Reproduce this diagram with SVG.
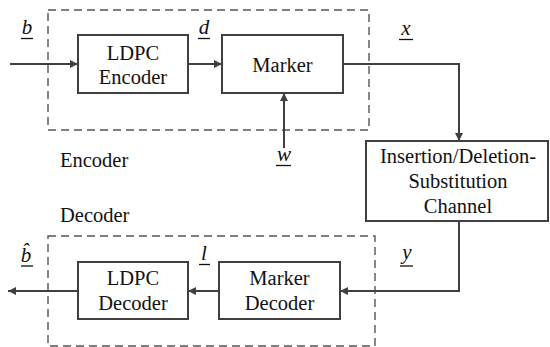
<svg xmlns="http://www.w3.org/2000/svg" width="550" height="347" viewBox="0 0 550 347">
  <defs>
    <style>
      .box { fill: #ffffff; stroke: #404040; stroke-width: 2; }
      .group { fill: none; stroke: #555555; stroke-width: 1.4; stroke-dasharray: 8 5; }
      .wire { fill: none; stroke: #404040; stroke-width: 2; }
      text { font-size: 20.5px; fill: #111111; }
      .lbl { text-anchor: middle; }
      .sym { font-style: italic; font-size: 21px; text-anchor: middle; }
      .ul { stroke: #111111; stroke-width: 1.3; }
    </style>
    <marker id="arrow" viewBox="0 0 10 10" refX="10" refY="5" markerWidth="10" markerHeight="8" markerUnits="userSpaceOnUse" orient="auto">
      <path d="M0,0 L10,5 L0,10 Z" fill="#404040"/>
    </marker>
  </defs>

  <g font-family="Liberation Serif, Times New Roman, DejaVu Serif, serif">
  <!-- dashed group frames -->
  <rect id="encoder-frame" class="group" x="48" y="10" width="321" height="120"/>
  <rect id="decoder-frame" class="group" x="48" y="236" width="327" height="110"/>
  <text class="cap" x="60" y="167">Encoder</text>
  <text class="cap" x="60" y="222">Decoder</text>

  <!-- connectors -->
  <g id="connectors">
    <line class="wire" x1="10" y1="64" x2="78" y2="64" marker-end="url(#arrow)"/>
    <line class="wire" x1="188" y1="64" x2="222" y2="64" marker-end="url(#arrow)"/>
    <polyline class="wire" points="343,64 459,64 459,141" marker-end="url(#arrow)"/>
    <line class="wire" x1="284" y1="148" x2="284" y2="93" marker-end="url(#arrow)"/>
    <polyline class="wire" points="459,221 459,291 340,291" marker-end="url(#arrow)"/>
    <line class="wire" x1="219" y1="291" x2="188" y2="291" marker-end="url(#arrow)"/>
    <line class="wire" x1="78" y1="291" x2="8" y2="291" marker-end="url(#arrow)"/>
  </g>

  <!-- signal labels -->
  <g id="signals">
    <text class="sym" x="27" y="34">b</text>
    <line class="ul" x1="21" y1="38.5" x2="33" y2="38.5"/>
    <text class="sym" x="204" y="34">d</text>
    <line class="ul" x1="198" y1="38.5" x2="210" y2="38.5"/>
    <text class="sym" x="406" y="35">x</text>
    <line class="ul" x1="399" y1="39.5" x2="413" y2="39.5"/>
    <text class="sym" x="284" y="161">w</text>
    <line class="ul" x1="276" y1="165.5" x2="291" y2="165.5"/>
    <text class="sym" x="26" y="262">b&#x302;</text>
    <line class="ul" x1="21" y1="266" x2="33" y2="266"/>
    <text class="sym" x="204" y="260">l</text>
    <line class="ul" x1="199" y1="264.5" x2="210" y2="264.5"/>
    <text class="sym" x="407" y="259">y</text>
    <line class="ul" x1="400" y1="266" x2="413" y2="266"/>
  </g>

  <g id="ldpc-encoder">
    <rect class="box" x="78" y="35" width="110" height="58"/>
    <text class="lbl" x="133" y="60">LDPC</text>
    <text class="lbl" x="133" y="84">Encoder</text>
  </g>

  <g id="marker">
    <rect class="box" x="222" y="35" width="121" height="58"/>
    <text class="lbl" x="282.5" y="72">Marker</text>
  </g>

  <g id="channel">
    <rect class="box" x="366" y="141" width="182" height="80"/>
    <text class="lbl" x="458" y="163">Insertion/Deletion-</text>
    <text class="lbl" x="458" y="188">Substitution</text>
    <text class="lbl" x="458" y="213">Channel</text>
  </g>

  <g id="marker-decoder">
    <rect class="box" x="219" y="262" width="121" height="57"/>
    <text class="lbl" x="279.5" y="285">Marker</text>
    <text class="lbl" x="279.5" y="310">Decoder</text>
  </g>

  <g id="ldpc-decoder">
    <rect class="box" x="78" y="262" width="110" height="57"/>
    <text class="lbl" x="133" y="285">LDPC</text>
    <text class="lbl" x="133" y="310">Decoder</text>
  </g>
  </g>
</svg>
